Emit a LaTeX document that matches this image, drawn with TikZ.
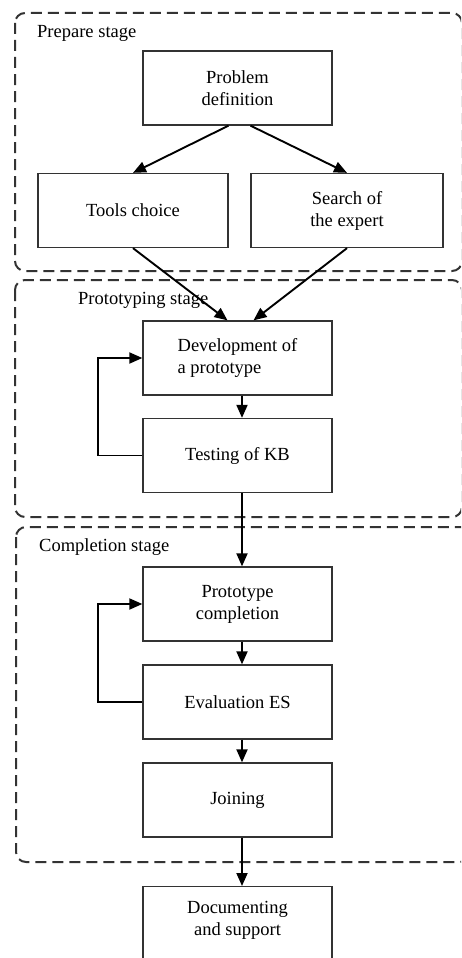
\documentclass[tikz,border=0pt]{standalone}
\usepackage{fontspec}
\setmainfont{Liberation Serif}
\usetikzlibrary{arrows.meta}
\begin{document}
\begin{tikzpicture}[x=1pt,y=-1pt,
  stagebox/.style={draw=black!80, line width=2pt, dash pattern=on 11pt off 6pt, rounded corners=10pt},
  procbox/.style={draw=black!80, line width=1.3pt, minimum width=189pt, minimum height=74pt, align=center, inner sep=2pt, font=\fontsize{18.5}{22}\selectfont},
  stagelabel/.style={anchor=west, inner sep=0pt, font=\fontsize{18.5}{22}\selectfont},
  arr/.style={draw=black, line width=1.9pt, -{Triangle[length=13pt,width=11pt]}}]
\useasboundingbox (0,0) rectangle (461,958);
\clip (0,0) rectangle (461,958);
% stage frames
\draw[stagebox] (15,13) rectangle (462,271);
\draw[stagebox] (15,280) rectangle (462,517);
\draw[stagebox] (16,527) rectangle (470,862);
\node[stagelabel] (l1) at (37,33) {Prepare stage};
\node[stagelabel] (l2) at (78,300) {Prototyping stage};
\node[stagelabel] (l3) at (39,547) {Completion stage};
% process boxes
\node[procbox] (pd) at (237.5,88) {Problem\\definition};
\node[procbox, minimum width=190pt] (tc) at (133,210.5) {Tools choice};
\node[procbox, minimum width=192pt] (se) at (347,210.5) {Search of\\the expert};
\node[procbox, align=left] (dev) at (237.5,358) {Development of\\a prototype};
\node[procbox] (test) at (237.5,455.5) {Testing of KB};
\node[procbox] (pc) at (237.5,604) {Prototype\\completion};
\node[procbox] (ev) at (237.5,702) {Evaluation ES};
\node[procbox] (jo) at (237.5,800) {Joining};
\node[procbox, anchor=north, minimum height=100pt] (doc) at (237.5,886) {Documenting\\and support\\[14pt]};
% arrows
\draw[arr] ([xshift=-9pt]pd.south) -- (tc.north);
\draw[arr] ([xshift=13pt]pd.south) -- (se.north);
\draw[arr] (tc.south) -- ([xshift=-10pt]dev.north);
\draw[arr] (se.south) -- ([xshift=16pt]dev.north);
\draw[arr] ([xshift=4.5pt]dev.south) -- ([xshift=4.5pt]test.north);
\draw[arr] (test.west) -- ++(-44,0) |- (dev.west);
\draw[arr] ([xshift=4.5pt]test.south) -- ([xshift=4.5pt]pc.north);
\draw[arr] ([xshift=4.5pt]pc.south) -- ([xshift=4.5pt]ev.north);
\draw[arr] (ev.west) -- ++(-44,0) |- (pc.west);
\draw[arr] ([xshift=4.5pt]ev.south) -- ([xshift=4.5pt]jo.north);
\draw[arr] ([xshift=4.5pt]jo.south) -- ([xshift=4.5pt]doc.north);
\end{tikzpicture}
\end{document}
